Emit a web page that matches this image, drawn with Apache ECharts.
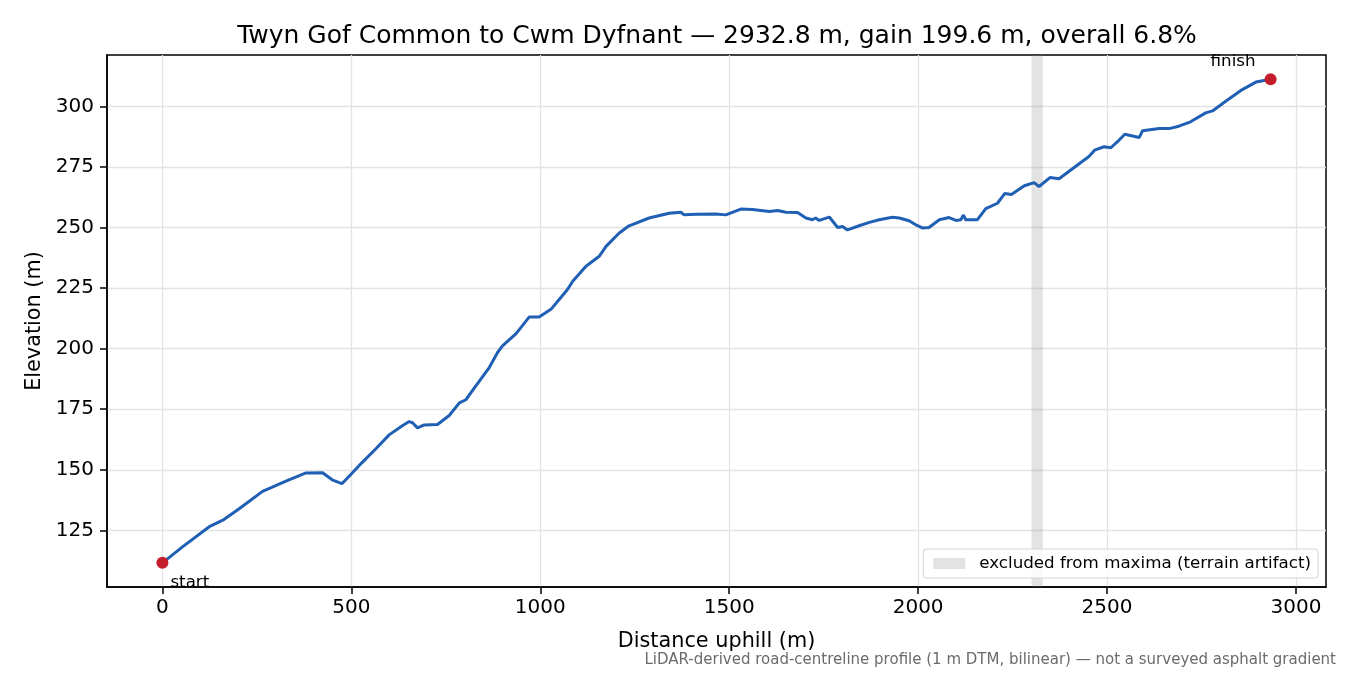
<!DOCTYPE html>
<html>
<head>
<meta charset="utf-8">
<script src="https://cdn.jsdelivr.net/npm/echarts@6/dist/echarts.min.js"></script>
<style>
  html, body { margin: 0; padding: 0; background: #fff; }
  #chart { width: 1350px; height: 675px; }
</style>
</head>
<body>
<div id="chart"></div>
<script>
// profile (distance along road, m / elevation, m)
const distance = [0, 54, 124, 160, 204, 265, 327, 380, 424, 451, 475, 486, 521, 565, 600, 636, 653, 662, 675, 693,
  728, 759, 786, 803, 830, 865, 887, 900, 936, 971, 997, 1030, 1050, 1072, 1086, 1121, 1156, 1174, 1209, 1235,
  1288, 1341, 1372, 1381, 1412, 1464, 1491, 1531, 1562, 1606, 1628, 1650, 1681, 1703, 1720, 1729, 1738, 1765, 1787, 1800,
  1813, 1844, 1871, 1897, 1932, 1950, 1976, 1994, 2011, 2029, 2056, 2082, 2100, 2113, 2120, 2126, 2157, 2179, 2210, 2229,
  2247, 2281, 2307, 2320, 2349, 2373, 2452, 2467, 2492, 2510, 2527, 2547, 2585, 2594, 2638, 2664, 2690, 2721, 2761, 2779,
  2814, 2858, 2894, 2932.8]
const elevation = [111.6, 118.3, 126.5, 129.2, 134, 141.1, 145.3, 148.7, 148.8, 145.7, 144.3, 146, 151.8, 158.7, 164.4, 168.3, 169.9, 169.4, 167.3, 168.5,
  168.7, 172.4, 177.6, 178.9, 184.7, 192.2, 198.4, 201.1, 206.2, 213.1, 213.1, 216.5, 220.3, 224.4, 227.8, 234, 238.1, 242.2, 247.7, 250.7,
  253.9, 255.9, 256.3, 255.2, 255.5, 255.6, 255.2, 257.6, 257.4, 256.6, 257, 256.3, 256.2, 253.9, 253.2, 253.9, 252.9, 254.3, 250, 250.4,
  249, 250.7, 252.1, 253.2, 254.2, 253.9, 252.8, 251.1, 249.8, 250, 253.2, 254.1, 252.9, 253.2, 255.1, 253.2, 253.2, 257.8, 260, 264,
  263.6, 267.2, 268.5, 266.9, 270.6, 270.1, 279.3, 281.9, 283.3, 282.9, 285.3, 288.5, 287.1, 289.9, 290.8, 290.8, 291.8, 293.6, 297.3, 298.1,
  302.1, 306.9, 310, 311.2]

const endpointNames = ['start', 'finish']
const excludedRange = [2300, 2330]
const xTicks = [0, 500, 1000, 1500, 2000, 2500, 3000]
const yTicks = [125, 150, 175, 200, 225, 250, 275, 300]

const titleText = 'Twyn Gof Common to Cwm Dyfnant — 2932.8 m, gain 199.6 m, overall 6.8%'
const noteText = 'LiDAR-derived road-centreline profile (1 m DTM, bilinear) — not a surveyed asphalt gradient'
const bandName = 'excluded from maxima (terrain artifact)'

const FONT = 'DejaVu Sans'
const last = distance.length - 1
const profile = distance.map((d, i) => [d, elevation[i]])
const endpoints = [
  { value: [distance[0], elevation[0]], label: { position: 'right', distance: 2, offset: [0, 20] } },
  { value: [distance[last], elevation[last]], label: { position: 'left', distance: 9, offset: [0, -18] } },
]

const gridLine = { show: true, lineStyle: { color: '#e3e3e3', width: 1.3 } }

const chart = echarts.init(document.getElementById('chart'), null, { renderer: 'canvas' })
chart.setOption({
  animation: false,
  backgroundColor: '#fff',
  textStyle: { fontFamily: FONT },
  title: [
    { text: titleText, left: 712, top: 19, textAlign: 'center',
      textStyle: { fontFamily: FONT, fontSize: 25, fontWeight: 'normal', color: '#000' } },
    { text: noteText, right: 9, bottom: 2,
      textStyle: { fontFamily: FONT, fontSize: 15, fontWeight: 'normal', color: '#6b6b6b' } },
  ],
  legend: {
    data: [{ name: bandName, icon: 'rect' }],
    right: 32, bottom: 97,
    padding: [6, 7, 6, 10],
    itemWidth: 32, itemHeight: 11,
    borderColor: '#d4d4d4', borderWidth: 1, borderRadius: 3,
    backgroundColor: 'rgba(255,255,255,0.8)',
    textStyle: { fontFamily: FONT, fontSize: 16.7, color: '#000', padding: [0, 0, 0, 9] },
  },
  grid: { left: 107, right: 24, top: 55, bottom: 88, show: true, borderColor: '#000', borderWidth: 1.5 },
  xAxis: {
    type: 'value', min: -146.64, max: 3079.44,
    name: 'Distance uphill (m)', nameLocation: 'middle', nameGap: 44,
    nameTextStyle: { fontFamily: FONT, fontSize: 20.8, color: '#000' },
    axisLine: { show: true, onZero: false, lineStyle: { color: '#000', width: 1.5 } },
    axisTick: { show: true, length: 7, customValues: xTicks, lineStyle: { color: '#000', width: 1.5 } },
    axisLabel: { customValues: xTicks, margin: 11, formatter: v => String(v),
      fontFamily: FONT, fontSize: 20, color: '#000' },
    splitLine: gridLine,
  },
  yAxis: {
    type: 'value', min: 101.62, max: 321.18,
    name: 'Elevation (m)', nameLocation: 'middle', nameGap: 58,
    nameTextStyle: { fontFamily: FONT, fontSize: 20.8, color: '#000' },
    axisLine: { show: true, onZero: false, lineStyle: { color: '#000', width: 1.5 } },
    axisTick: { show: true, length: 7, customValues: yTicks, lineStyle: { color: '#000', width: 1.5 } },
    axisLabel: { customValues: yTicks, margin: 13, formatter: v => String(v),
      fontFamily: FONT, fontSize: 20, color: '#000' },
    splitLine: gridLine,
  },
  series: [
    {
      name: bandName, type: 'line', data: [],
      itemStyle: { color: 'rgba(128,128,128,0.22)', borderColor: 'rgba(128,128,128,0.3)' },
      lineStyle: { color: 'rgba(128,128,128,0.22)' },
      markArea: {
        silent: true,
        itemStyle: { color: 'rgba(128,128,128,0.22)' },
        data: [[{ xAxis: excludedRange[0] }, { xAxis: excludedRange[1] }]],
      },
    },
    {
      name: 'profile', type: 'line', data: profile,
      showSymbol: false, smooth: false, z: 3,
      lineStyle: { color: '#1f5fb4', width: 3 },
    },
    {
      name: 'endpoints', type: 'scatter', z: 4,
      data: endpoints,
      symbolSize: 12,
      itemStyle: { color: '#c41e2d', opacity: 1 },
      label: {
        show: true,
        formatter: p => endpointNames[p.dataIndex],
        fontFamily: FONT, fontSize: 16.7, color: '#000',
      },
    },
  ],
})
</script>
</body>
</html>
